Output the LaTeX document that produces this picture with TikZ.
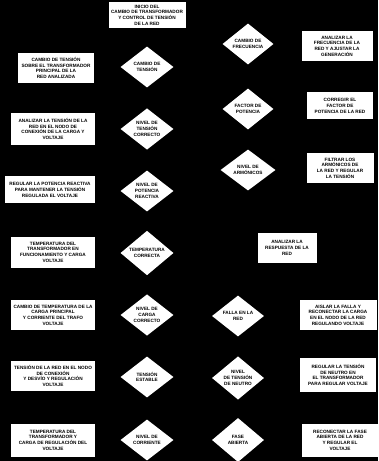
\documentclass[tikz,border=0pt]{standalone}
\usepackage{fontspec}
\setmainfont{Liberation Sans}
\usepackage{tikz}
\usetikzlibrary{
  shapes.geometric,
}

\begin{document}
\begin{tikzpicture}[
    x=1bp, y=-1bp,
    font=\fontsize{4.7}{5.7}\selectfont\bfseries,
    stepbox/.style={rectangle, fill=white, text=black, align=center,
                    inner sep=1pt, minimum width=76bp, minimum height=30bp},
    decision/.style={diamond, fill=white, text=black, align=center,
                     inner sep=0pt, minimum width=53bp, minimum height=41bp},
  ]
  \fill[black] (0,0) rectangle (378,461);
  \useasboundingbox (0,0) rectangle (378,461);

  % start
  \node[stepbox, minimum width=77bp, minimum height=26bp] (start) at (147,15)
    {INICIO DEL\\ CAMBIO DE TRANSFORMADOR\\ Y CONTROL DE TENSIÓN\\ DE LA RED};

  % left column: actions
  \node[stepbox] (actL1) at (56,68)
    {CAMBIO DE TENSIÓN\\ SOBRE EL TRANSFORMADOR\\ PRINCIPAL DE LA\\ RED ANALIZADA};
  \node[stepbox, minimum width=83bp, minimum height=32bp] (actL2) at (53,129)
    {ANALIZAR LA TENSIÓN DE LA\\ RED EN EL NODO DE\\ CONEXIÓN DE LA CARGA Y\\ VOLTAJE};
  \node[stepbox, minimum width=89bp, minimum height=27bp] (actL3) at (50,190)
    {REGULAR LA POTENCIA REACTIVA\\ PARA MANTENER LA TENSIÓN\\ REGULADA EL VOLTAJE};
  \node[stepbox, minimum width=83bp, minimum height=31bp] (actL4) at (53,252)
    {TEMPERATURA DEL\\ TRANSFORMADOR EN\\ FUNCIONAMIENTO Y CARGA\\ VOLTAJE};
  \node[stepbox, minimum width=83bp] (actL5) at (53,315)
    {CAMBIO DE TEMPERATURA DE LA\\ CARGA PRINCIPAL\\ Y CORRIENTE DEL TRAFO\\ VOLTAJE};
  \node[stepbox, minimum width=83bp] (actL6) at (53,376)
    {TENSIÓN DE LA RED EN EL NODO\\ DE CONEXIÓN\\ Y DESVÍO Y REGULACIÓN\\ VOLTAJE};
  \node[stepbox, minimum width=83bp, minimum height=33bp] (actL7) at (53,440)
    {TEMPERATURA DEL\\ TRANSFORMADOR Y\\ CARGA DE REGULACIÓN DEL\\ VOLTAJE};

  % left column: decisions
  \node[decision] (decL1) at (147,67)  {CAMBIO DE\\ TENSIÓN};
  \node[decision] (decL2) at (147,129) {NIVEL DE\\ TENSIÓN\\ CORRECTO};
  \node[decision] (decL3) at (147,191) {NIVEL DE\\ POTENCIA\\ REACTIVA};
  \node[decision] (decL4) at (147,253) {TEMPERATURA\\ CORRECTA};
  \node[decision] (decL5) at (147,315) {NIVEL DE\\ CARGA\\ CORRECTO};
  \node[decision] (decL6) at (147,377) {TENSIÓN\\ ESTABLE};
  \node[decision] (decL7) at (147,440) {NIVEL DE\\ CORRIENTE};

  % right column: decisions
  \node[decision, minimum width=51bp] (decR1) at (248,44)  {CAMBIO DE\\ FRECUENCIA};
  \node[decision, minimum width=51bp] (decR2) at (248,109) {FACTOR DE\\ POTENCIA};
  \node[decision, minimum width=55bp] (decR3) at (248,170) {NIVEL DE\\ ARMÓNICOS};
  \node[decision, minimum width=52bp] (decR4) at (238,316) {FALLA EN LA\\ RED};
  \node[decision, minimum width=52bp, minimum height=43bp] (decR5) at (238,378)
    {NIVEL\\ DE TENSIÓN\\ DE NEUTRO};
  \node[decision, minimum width=52bp, minimum height=44bp] (decR6) at (238,440) {FASE\\ ABIERTA};

  % right column: actions
  \node[stepbox, minimum width=71bp] (actR1) at (337,46)
    {ANALIZAR LA\\ FRECUENCIA DE LA\\ RED Y AJUSTAR LA\\ GENERACIÓN};
  \node[stepbox, minimum width=66bp, minimum height=27bp] (actR2) at (340,106)
    {CORREGIR EL\\ FACTOR DE\\ POTENCIA DE LA RED};
  \node[stepbox, minimum width=67bp] (actR3) at (340,168)
    {FILTRAR LOS\\ ARMÓNICOS DE\\ LA RED Y REGULAR\\ LA TENSIÓN};
  \node[stepbox, minimum width=59bp] (actM) at (287,248)
    {ANALIZAR LA\\ RESPUESTA DE LA\\ RED};
  \node[stepbox, minimum width=77bp] (actR4) at (338,315)
    {AISLAR LA FALLA Y\\ RECONECTAR LA CARGA\\ EN EL NODO DE LA RED\\ REGULANDO VOLTAJE};
  \node[stepbox, minimum width=76bp, minimum height=34bp] (actR5) at (338,375)
    {REGULAR LA TENSIÓN\\ DE NEUTRO EN\\ EL TRANSFORMADOR\\ PARA REGULAR VOLTAJE};
  \node[stepbox, minimum width=76bp, minimum height=33bp] (actR6) at (340,440)
    {RECONECTAR LA FASE\\ ABIERTA DE LA RED\\ Y REGULAR EL\\ VOLTAJE};
\end{tikzpicture}
\end{document}
